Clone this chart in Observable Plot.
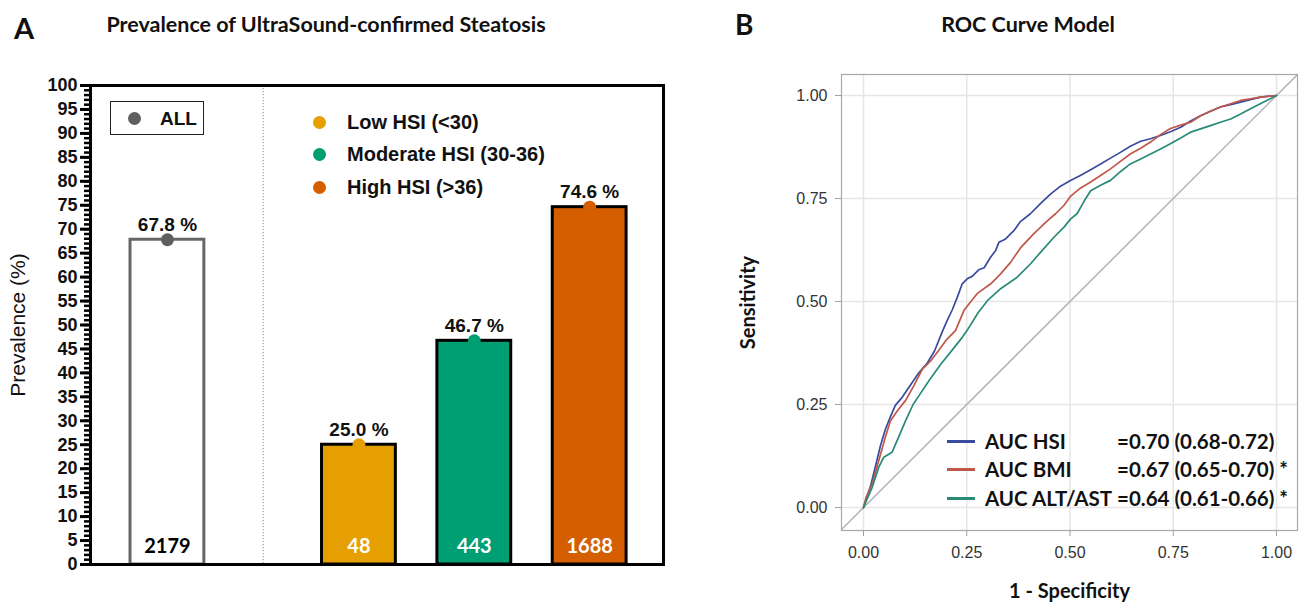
<!DOCTYPE html>
<html><head><meta charset="utf-8">
<script src="https://cdn.jsdelivr.net/npm/d3@7"></script>
<script src="https://cdn.jsdelivr.net/npm/@observablehq/plot@0.6"></script>
<style>
body{margin:0;background:#fff;}
#wrap{position:relative;width:1304px;height:604px;overflow:hidden;background:#fff;font-family:"Liberation Sans",Arial,sans-serif;}
#wrap svg{position:absolute;top:0;}
.t{position:absolute;white-space:nowrap;line-height:1;transform:translate(0,-50%);}
.tc{position:absolute;white-space:nowrap;line-height:1;transform:translate(-50%,-50%);}
.cal{font-family:Lato,"Open Sans",sans-serif;font-weight:700;}
.ar{font-family:"Liberation Sans",Arial,sans-serif;font-weight:700;}
</style></head><body><div id="wrap"></div>
<script>
// ---------- Data: panel A ----------
const groups = ["ALL", "Low HSI (<30)", "Moderate HSI (30-36)", "High HSI (>36)"];
const prevalence = [67.8, 25.0, 46.7, 74.6];
const counts = [2179, 48, 443, 1688];
const yTicksA = [0,5,10,15,20,25,30,35,40,45,50,55,60,65,70,75,80,85,90,95,100];

// ---------- Data: panel B (ROC curves) ----------
const rocModels = ["AUC HSI", "AUC BMI", "AUC ALT/AST"];
const aucText = ["=0.70 (0.68-0.72)", "=0.67 (0.65-0.70) *", "=0.64 (0.61-0.66) *"];
const rocTicks = [0, 0.25, 0.5, 0.75, 1];
const hsiFpr = [0,0.017,0.029,0.041,0.053,0.065,0.077,0.094,0.110,0.134,0.154,0.172,0.190,0.203,0.215,0.227,0.239,0.251,0.263,0.279,0.292,0.308,0.320,0.328,0.344,0.364,0.380,0.404,0.429,0.452,0.477,0.500,0.525,0.550,0.574,0.598,0.622,0.646,0.671,0.695,0.719,0.743,0.768,0.792,0.816,0.840,0.864,0.889,0.913,0.937,0.961,1];
const hsiTpr = [0,0.052,0.100,0.150,0.190,0.220,0.248,0.268,0.292,0.327,0.350,0.380,0.425,0.455,0.480,0.510,0.543,0.555,0.561,0.577,0.582,0.608,0.624,0.644,0.652,0.672,0.694,0.713,0.738,0.760,0.780,0.793,0.806,0.820,0.834,0.848,0.862,0.877,0.889,0.895,0.903,0.912,0.923,0.938,0.951,0.962,0.972,0.978,0.984,0.990,0.996,1];
const bmiFpr = [0,0.006,0.021,0.037,0.053,0.065,0.082,0.102,0.122,0.142,0.162,0.182,0.199,0.223,0.243,0.260,0.275,0.308,0.332,0.356,0.380,0.412,0.441,0.465,0.485,0.501,0.525,0.550,0.574,0.598,0.622,0.646,0.671,0.695,0.719,0.743,0.768,0.792,0.816,0.840,0.864,0.889,0.913,0.937,0.961,1];
const bmiTpr = [0,0.024,0.058,0.114,0.171,0.210,0.235,0.260,0.296,0.335,0.355,0.381,0.405,0.430,0.478,0.500,0.519,0.543,0.567,0.595,0.630,0.664,0.692,0.713,0.733,0.755,0.775,0.790,0.806,0.822,0.840,0.858,0.872,0.887,0.905,0.920,0.928,0.935,0.951,0.962,0.972,0.980,0.988,0.992,0.996,1];
const altFpr = [0,0.002,0.021,0.037,0.049,0.069,0.085,0.102,0.120,0.140,0.160,0.188,0.217,0.239,0.251,0.277,0.300,0.332,0.372,0.404,0.429,0.461,0.485,0.501,0.517,0.535,0.550,0.574,0.598,0.622,0.646,0.671,0.695,0.719,0.743,0.768,0.792,0.816,0.840,0.864,0.889,0.913,0.937,0.969,1];
const altTpr = [0,0.005,0.049,0.098,0.122,0.134,0.171,0.211,0.250,0.280,0.310,0.349,0.385,0.413,0.430,0.472,0.502,0.531,0.559,0.591,0.620,0.656,0.680,0.700,0.713,0.745,0.769,0.782,0.794,0.815,0.834,0.846,0.858,0.870,0.883,0.897,0.911,0.919,0.927,0.935,0.943,0.955,0.968,0.984,1];

// ---------- Styles ----------
const groupFill = ["#ffffff", "#E69F00", "#009E73", "#D55E00"];
const groupStroke = ["#666666", "#000000", "#000000", "#000000"];
const dotFill = ["#5f5f5f", "#E69F00", "#009E73", "#D55E00"];
const countFill = ["#000000", "#ffffff", "#ffffff", "#ffffff"];
const rocColor = ["#3a4b9e", "#c0574b", "#2a8a78"];

const wrap = document.getElementById("wrap");
function addText(txt, x, y, cls, style, centered) {
  const d = document.createElement("div");
  d.className = (centered ? "tc " : "t ") + cls;
  d.setAttribute("style", `left:${x}px;top:${y}px;` + (style || ""));
  d.textContent = txt;
  wrap.appendChild(d);
  return d;
}

// ---------- Panel A ----------
const slot = i => (i === 0 ? 0 : i + 0.66);
const halfW = 0.32;
const bars = groups.map((g, i) => ({g, i, x: slot(i), v: prevalence[i], n: counts[i]}));
const divider = (slot(0) + slot(1)) / 2;

const plotA = Plot.plot({
  width: 700, height: 604,
  marginLeft: 90, marginRight: 37, marginTop: 85, marginBottom: 40,
  x: {type: "linear", domain: [-0.667, 4.3], axis: null},
  y: {domain: [0, 100], axis: null},
  color: {type: "identity"},
  style: {fontFamily: "'Liberation Sans', Arial, sans-serif", background: "transparent", overflow: "visible"},
  marks: [
    Plot.ruleX([divider], {stroke: "#8a8a8a", strokeWidth: 1, strokeDasharray: "1.2,1.8"}),
    Plot.rectY(bars, {x1: d => d.x - halfW, x2: d => d.x + halfW, y1: 0, y2: "v",
      fill: d => groupFill[d.i], stroke: d => groupStroke[d.i], strokeWidth: 3}),
    Plot.dot(bars, {x: "x", y: "v", r: 6.5, fill: d => dotFill[d.i], stroke: null}),
    Plot.text(bars, {x: "x", y: "v", text: d => d.v.toFixed(1) + " %", dy: -15,
      fontSize: 19, fontWeight: "bold", fill: "#111"}),
    Plot.text(bars, {x: "x", y: 0, text: d => String(d.n), dy: -18,
      fontSize: 20, fontWeight: "bold", fontFamily: "Lato, 'Open Sans', sans-serif", fill: d => countFill[d.i]}),
    Plot.axisY({ticks: d3.range(0, 101, 1), tickSize: 6, tickFormat: () => "", stroke: "black", strokeWidth: 2.5, label: null}),
    Plot.axisY({ticks: yTicksA, tickSize: 10, tickPadding: 3, fontSize: 18, fontWeight: "bold",
      stroke: "black", strokeWidth: 3, fill: "#111", label: null}),
    Plot.frame({stroke: "black", strokeWidth: 3}),
    Plot.text(["Prevalence (%)"], {frameAnchor: "left", textAnchor: "middle", rotate: -90, dx: -72, text: d => d,
      fontSize: 21, fill: "#111"})
  ]
});
plotA.style.left = "0px";
wrap.appendChild(plotA);

// ---------- Panel B ----------
const rocData = [
  ...hsiFpr.map((f, k) => ({m: 0, fpr: f, tpr: hsiTpr[k]})),
  ...bmiFpr.map((f, k) => ({m: 1, fpr: f, tpr: bmiTpr[k]})),
  ...altFpr.map((f, k) => ({m: 2, fpr: f, tpr: altTpr[k]}))
];
const xDomB = [-0.0533, 1.0508];
const yDomB = [-0.0558, 1.051];
const diag = [Math.min(xDomB[0], yDomB[0]) - 0.01, Math.max(xDomB[1], yDomB[1]) + 0.01];

const plotB = Plot.plot({
  width: 584, height: 604,
  marginLeft: 121, marginRight: 7, marginTop: 74, marginBottom: 74,
  x: {domain: xDomB, axis: null},
  y: {domain: yDomB, axis: null},
  color: {type: "identity"},
  style: {fontFamily: "'Liberation Sans', Arial, sans-serif", background: "transparent", overflow: "visible"},
  marks: [
    Plot.gridX(rocTicks, {stroke: "#e6e6e6", strokeOpacity: 1, strokeWidth: 1.5}),
    Plot.gridY(rocTicks, {stroke: "#e6e6e6", strokeOpacity: 1, strokeWidth: 1.5}),
    Plot.line(diag, {x: d => d, y: d => d, stroke: "#b4b4b4", strokeWidth: 1.5, clip: true}),
    Plot.line(rocData, {x: "fpr", y: "tpr", z: "m", stroke: d => rocColor[d.m], strokeWidth: 1.7, curve: "linear"}),
    Plot.frame({stroke: "#a8a8a8", strokeWidth: 1.2}),
    Plot.axisX({ticks: rocTicks, tickFormat: d3.format(".2f"), tickSize: 6, tickPadding: 10,
      fontSize: 16, stroke: "#a0a0a0", fill: "#333", label: null}),
    Plot.axisY({ticks: rocTicks, tickFormat: d3.format(".2f"), tickSize: 6, tickPadding: 8,
      fontSize: 16, stroke: "#a0a0a0", fill: "#333", label: null}),
    Plot.text(["Sensitivity"], {frameAnchor: "left", textAnchor: "middle", rotate: -90, dx: -93, text: d => d,
      fontSize: 20, fontWeight: "bold", fontFamily: "Lato, 'Open Sans', sans-serif", fill: "#111"}),
    Plot.text(["1 - Specificity"], {frameAnchor: "bottom", lineAnchor: "middle", dy: 61, text: d => d,
      fontSize: 20, fontWeight: "bold", fontFamily: "Lato, 'Open Sans', sans-serif", fill: "#111"})
  ]
});
plotB.style.left = "720px";
wrap.appendChild(plotB);

// ---------- Titles ----------
addText("A", 14, 27, "cal", "font-size:29px;color:#111;");
addText("Prevalence of UltraSound-confirmed Steatosis", 326, 25, "cal", "font-size:21.5px;color:#111;", true);
addText("B", 735, 24, "cal", "font-size:28px;color:#111;");
addText("ROC Curve Model", 1028, 25, "cal", "font-size:21.5px;color:#111;", true);

// ---------- Legend A ----------
const box = document.createElement("div");
box.setAttribute("style", "position:absolute;left:110px;top:101px;width:92px;height:32px;border:1.5px solid #222;");
wrap.appendChild(box);
function dot(x, y, c) {
  const d = document.createElement("div");
  d.setAttribute("style", `position:absolute;left:${x - 6.5}px;top:${y - 6.5}px;width:13px;height:13px;border-radius:50%;background:${c};`);
  wrap.appendChild(d);
}
dot(134, 118, dotFill[0]);
addText(groups[0], 160, 118, "ar", "font-size:19px;color:#111;");
const legY = [122, 154, 187];
[1, 2, 3].forEach((i, k) => {
  dot(319, legY[k], dotFill[i]);
  addText(groups[i], 347, legY[k], "ar", "font-size:20px;color:#111;");
});

// ---------- Legend B ----------
const legBY = [441, 469, 498];
rocModels.forEach((m, k) => {
  const l = document.createElement("div");
  l.setAttribute("style", `position:absolute;left:947px;top:${legBY[k] - 1.5}px;width:28px;height:3px;background:${rocColor[k]};`);
  wrap.appendChild(l);
  addText(m, 985, legBY[k], "cal", "font-size:20.5px;color:#111;");
  addText(aucText[k], 1117, legBY[k], "cal", "font-size:20.5px;color:#111;");
});
</script></body></html>
